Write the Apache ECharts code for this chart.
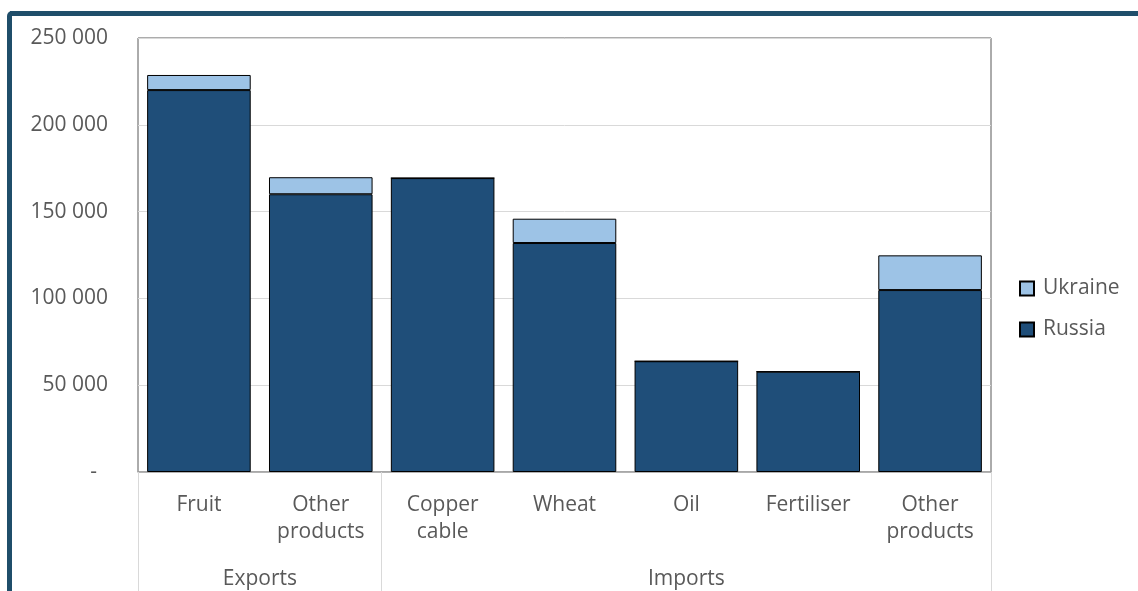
<!DOCTYPE html>
<html>
<head>
<meta charset="utf-8">
<script src="https://cdn.jsdelivr.net/npm/echarts@6/dist/echarts.min.js"></script>
<style>
  html, body { margin: 0; padding: 0; background: #fff; overflow: hidden; width: 1138px; height: 591px; }
  #frameTop { position: absolute; left: 10px; top: 11px; width: 1128px; height: 5px; background: #1f4e6a; }
  #frameLeft {
    position: absolute; left: 7px; top: 11px; width: 5px; height: 580px; background: #1f4e6a;
    border-top-left-radius: 5px;
  }
  #main { position: absolute; left: 0; top: 0; width: 1138px; height: 591px; }
</style>
</head>
<body>
<div id="frameTop"></div>
<div id="frameLeft"></div>
<div id="main"></div>
<script>
// categories and groups
var categories = ['Fruit', 'Other\nproducts', 'Copper\ncable', 'Wheat', 'Oil', 'Fertiliser', 'Other\nproducts'];
var groupNames = ['Exports', 'Imports'];
var groupCentres = [1, 4.5];
var groupEdges = [0, 2, 7];

// values
var russia = [220000, 160000, 169300, 131900, 63800, 57800, 104800];
var ukraine = [8700, 9800, 0, 14000, 0, 0, 20000];

var font = 'Open Sans';
var grey = '#595959';

var chart = echarts.init(document.getElementById('main'));

function fmt(v) {
  if (v == 0) return '{dash|-}';
  var s = String(v);
  return s.replace(/\B(?=(\d{3})+(?!\d))/g, ' ');
}

var option = {
  animation: false,
  backgroundColor: 'transparent',
  textStyle: { fontFamily: font },
  grid: {
    left: 138, right: 147, top: 38, bottom: 119,
    show: true, borderColor: '#595959', borderWidth: 1
  },
  legend: {
    data: ['Ukraine', 'Russia'],
    orient: 'vertical',
    left: 1014, top: 273,
    itemWidth: 14, itemHeight: 14, itemGap: 20,
    icon: 'rect',
    textStyle: { fontFamily: font, fontSize: 21, color: grey, padding: [0, 0, 0, 4] }
  },
  xAxis: [{
    type: 'category',
    data: categories,
    axisLine: { lineStyle: { color: '#a6a6a6', width: 1.5 } },
    axisTick: { show: false },
    axisLabel: {
      interval: 0, margin: 20, fontFamily: font, fontSize: 21,
      lineHeight: 27, color: grey
    }
  }, {
    type: 'value',
    position: 'bottom',
    min: 0, max: 7,
    axisLine: { show: false },
    splitLine: { show: false },
    axisTick: {
      show: true, customValues: groupEdges, length: 119,
      lineStyle: { color: '#d9d9d9', width: 1 }
    },
    axisLabel: {
      customValues: groupCentres, margin: 97, fontFamily: font, fontSize: 21, color: grey,
      formatter: function (v) { return groupNames[groupCentres.indexOf(v)]; }
    }
  }],
  yAxis: {
    type: 'value',
    min: 0, max: 250000, interval: 50000,
    axisLine: { show: false },
    axisTick: { show: false },
    splitLine: { lineStyle: { color: '#d9d9d9', width: 1 } },
    axisLabel: {
      margin: 30, fontFamily: font, fontSize: 21, color: grey,
      formatter: fmt,
      rich: { dash: { fontFamily: font, fontSize: 21, color: grey, padding: [0, 11, 0, 0] } }
    }
  },
  series: [{
    name: 'Russia',
    type: 'bar',
    stack: 'total',
    data: russia,
    barCategoryGap: '15%',
    itemStyle: { color: '#1f4e79', borderColor: '#000', borderWidth: 1 }
  }, {
    name: 'Ukraine',
    type: 'bar',
    stack: 'total',
    data: ukraine,
    itemStyle: { color: '#9dc3e6', borderColor: '#000', borderWidth: 1 }
  }]
};

chart.setOption(option);
</script>
</body>
</html>
